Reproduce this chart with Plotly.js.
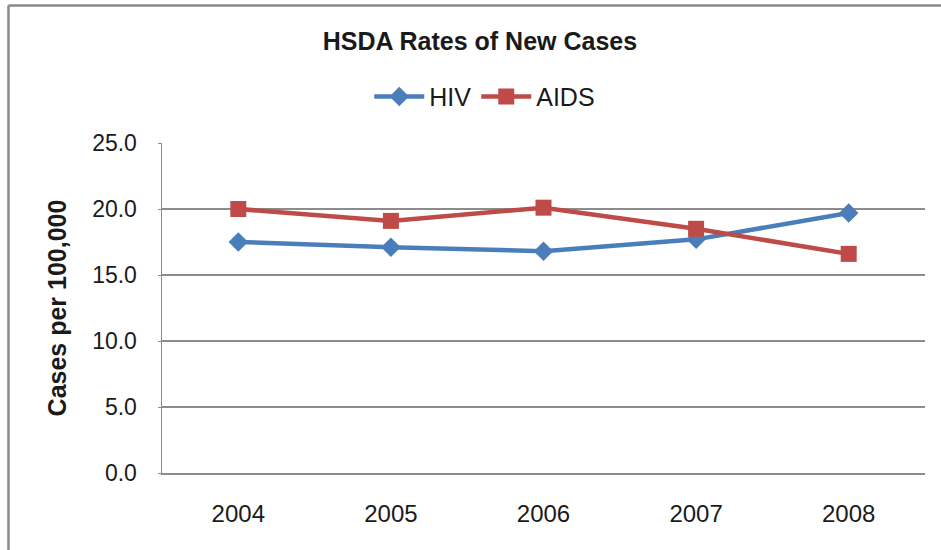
<!DOCTYPE html>
<html>
<head>
<meta charset="utf-8">
<script src="https://cdn.plot.ly/plotly-3.0.1.min.js"></script>
<style>html,body{margin:0;padding:0;background:#fff;}#chart{width:941px;height:550px;}</style>
</head>
<body>
<div id="chart"></div>
<script>
const years = ["2004", "2005", "2006", "2007", "2008"];
const hivRates = [17.5, 17.1, 16.8, 17.7, 19.7];
const aidsRates = [20.0, 19.1, 20.1, 18.5, 16.6];
const yTicks = [0, 5, 10, 15, 20, 25];
const yTickLabels = ["0.0", "5.0", "10.0", "15.0", "20.0", "25.0"];

const font = "Liberation Sans, Arial, sans-serif";
const traces = [
  {x: years, y: hivRates, name: "HIV", type: "scatter", mode: "lines+markers",
   line: {color: "#4A7EBB", width: 4.5}, marker: {symbol: "diamond", size: 15, color: "#4A7EBB"}},
  {x: years, y: aidsRates, name: "AIDS", type: "scatter", mode: "lines+markers",
   line: {color: "#BE4B48", width: 4.5}, marker: {symbol: "square", size: 16, color: "#BE4B48"}}
];
const layout = {
  width: 941, height: 550,
  margin: {l: 162, r: 16, t: 143, b: 77},
  paper_bgcolor: "#fff", plot_bgcolor: "#fff",
  font: {family: font, size: 22, color: "#1a1a1a"},
  title: {text: "<b>HSDA Rates of New Cases</b>", x: 0.51, xanchor: "center", y: 0.925, yanchor: "middle",
          font: {family: font, size: 25, color: "#1a1a1a"}},
  showlegend: true,
  legend: {orientation: "h", x: 0.423, xanchor: "center", y: 1.14, yanchor: "middle",
           font: {family: font, size: 25, color: "#1a1a1a"}, itemwidth: 50, traceorder: "normal"},
  xaxis: {type: "category", range: [-0.5, 4.5], showgrid: false, showline: true, linecolor: "#8c8c8c", linewidth: 1.5,
          ticks: "", ticklabelstandoff: 19, tickfont: {family: font, size: 24, color: "#1a1a1a"}, zeroline: false},
  yaxis: {range: [0, 25], tickvals: yTicks, ticktext: yTickLabels, showgrid: true, gridcolor: "#8c8c8c", gridwidth: 1.2,
          showline: true, linecolor: "#8c8c8c", linewidth: 1.5, ticks: "outside", ticklen: 3, tickcolor: "#8c8c8c",
          ticklabelstandoff: 16, zeroline: false, automargin: false,
          tickfont: {family: font, size: 23, color: "#1a1a1a"},
          title: {text: "<b>Cases per 100,000</b>", standoff: 18, font: {family: font, size: 25, color: "#1a1a1a"}}},
  shapes: [
    {type: "line", xref: "paper", yref: "paper", x0: -0.2012, x1: 1.03, y0: 1.4167, y1: 1.4167,
     line: {color: "#8a8a8a", width: 2.5}},
    {type: "line", xref: "paper", yref: "paper", x0: -0.2012, x1: -0.2012, y0: -0.25, y1: 1.4167,
     line: {color: "#8a8a8a", width: 2.5}}
  ]
};
Plotly.newPlot("chart", traces, layout, {staticPlot: true});
</script>
</body>
</html>
